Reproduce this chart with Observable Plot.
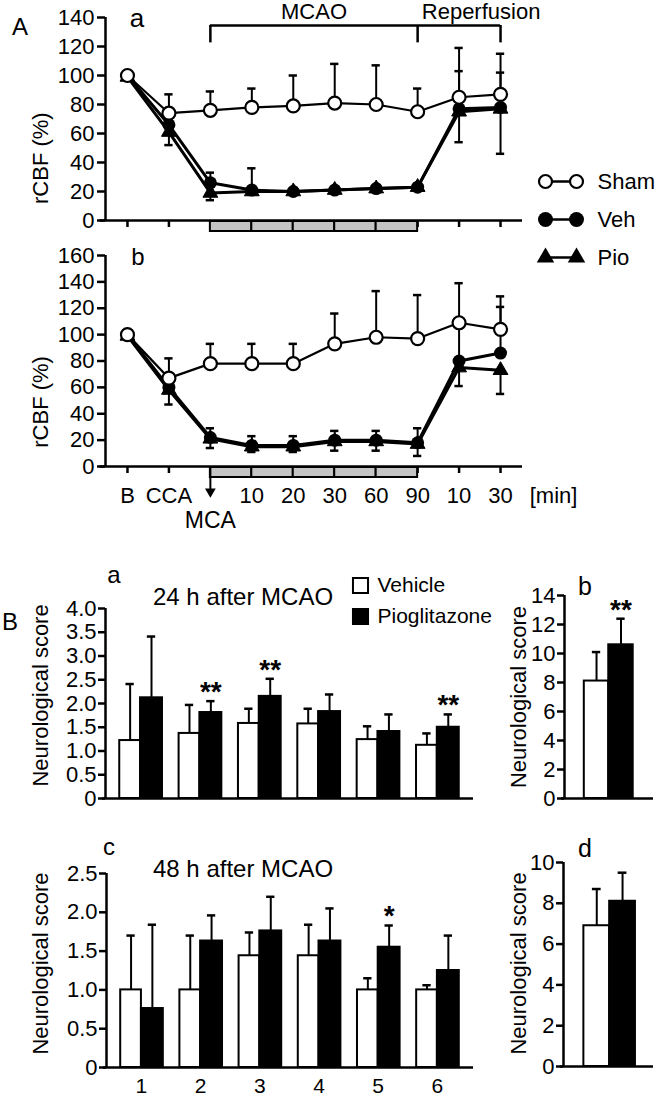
<!DOCTYPE html>
<html><head><meta charset="utf-8">
<script src="https://cdn.jsdelivr.net/npm/d3@7"></script>
<script src="https://cdn.jsdelivr.net/npm/@observablehq/plot@0.6"></script>
<style>
body{margin:0;background:#fff;}
#fig{position:relative;width:658px;height:1097px;overflow:hidden;background:#fff;font-family:"Liberation Sans",Arial,Helvetica,sans-serif;color:#000;}
.p{position:absolute;}
.lbl{position:absolute;white-space:nowrap;line-height:1;}
</style></head><body><div id="fig"></div>
<script>
// ---------- DATA ----------
const timeTickLabels = ["B","CCA","","10","20","30","60","90","10","30"];
const seriesNames = ["Sham","Veh","Pio"];

// Panel A-a (rCBF %)
const aSham     = [100,74,76,78,79,81,80,75,85,87];
const aShamUp   = [0,13,13,13,21,27,27,16,34,28];
const aVeh      = [100,66,26,21,20,21,22,23,77,78];
const aVehUp    = [0,0,7,15,0,0,0,0,26,24];
const aVehDown  = [0,14,0,0,0,0,0,0,0,0];
const aPio      = [99,61,19,20,20,21,22,23,75,77];
const aPioDown  = [0,0,5,0,0,0,0,0,21,31];

// Panel A-b (rCBF %)
const bSham     = [100,67,78,78,78,93,98,97,109,104];
const bShamUp   = [0,15,15,15,15,23,35,33,30,25];
const bVeh      = [100,60,22,16,16,20,20,18,80,86];
const bVehUp    = [0,0,7,7,7,7,7,11,28,35];
const bVehDown  = [0,13,0,0,0,0,0,0,0,0];
const bPio      = [99,58,21,15,15,19,19,17,75,73];
const bPioDown  = [0,0,7,4,4,7,7,9,14,18];

// Panel B (neurological scores)
const testGroups = [1,2,3,4,5,6];
const treatments = ["Vehicle","Pioglitazone"];
const veh24    = [1.22,1.37,1.58,1.57,1.24,1.12];
const veh24Err = [1.19,0.60,0.31,0.32,0.28,0.25];
const pio24    = [2.12,1.81,2.15,1.83,1.41,1.50];
const pio24Err = [1.29,0.24,0.37,0.36,0.36,0.27];
const sig24    = ["","**","**","","","**"];
const veh48    = [1.00,1.00,1.44,1.44,1.00,1.00];
const veh48Err = [0.70,0.70,0.30,0.40,0.15,0.06];
const pio48    = [0.76,1.63,1.76,1.63,1.55,1.25];
const pio48Err = [1.08,0.33,0.44,0.42,0.28,0.45];
const sig48    = ["","","","","*",""];
const total24    = [8.1,10.6];
const total24Err = [2.0,1.8];
const total24Sig = ["","**"];
const total48    = [6.9,8.1];
const total48Err = [1.8,1.4];
const total48Sig = ["",""];

// ---------- HELPERS ----------
const FONT = '"Liberation Sans", Arial, Helvetica, sans-serif';
const fig = document.getElementById("fig");
const st = size => ({fontFamily: FONT, fontSize: size + "px", color: "black", background: "transparent", overflow: "visible"});
function place(node, left, top, w) {
  const d = document.createElement("div");
  d.className = "p"; d.style.left = left + "px"; d.style.top = top + "px";
  if (w) d.style.width = w + "px";
  d.appendChild(node); fig.appendChild(d);
}
function label(text, x, y, size, opts = {}) {
  const s = document.createElement("div");
  s.className = "lbl"; s.textContent = text;
  s.style.fontSize = size + "px";
  s.style.left = x + "px"; s.style.top = y + "px";
  if (opts.center) s.style.transform = "translateX(-50%)";
  fig.appendChild(s);
}
function seriesRows(vals, ups, downs, s) {
  return vals.map((v, i) => ({i, s, v, up: ups ? ups[i] : 0, down: downs ? downs[i] : 0}));
}
const X_DOMAIN = [-0.53, 9.53];

function panelA(cfg) {
  const {sham, shamUp, veh, vehUp, vehDown, pio, pioDown, yMax, height, mt, mb, labelY, extra} = cfg;
  const k = (height - mt - mb) / yMax;
  const u = px => px / k;
  const rows = [
    ...seriesRows(sham, shamUp, null, "Sham"),
    ...seriesRows(veh, vehUp, vehDown, "Veh"),
    ...seriesRows(pio, null, pioDown, "Pio")
  ];
  const ups = rows.filter(d => d.up > 0), downs = rows.filter(d => d.down > 0);
  const cap = 0.1;
  const by = s => rows.filter(d => d.s === s);
  return Plot.plot({
    width: 658, height, marginLeft: 105, marginRight: 136, marginTop: mt, marginBottom: mb,
    x: {domain: X_DOMAIN, label: null}, y: {domain: [0, yMax], label: null},
    style: st(22),
    marks: [
      Plot.axisX({ticks: d3.range(10), tickSize: 7, tickFormat: () => "", strokeWidth: 2.5, label: null}),
      Plot.rect(d3.range(2, 7), {x1: d => d, x2: d => d + 1, y1: -u(11), y2: -u(1), fill: "#c4c4c4", stroke: "black", strokeWidth: 2}),
      Plot.ruleY([0], {x1: -0.66, x2: X_DOMAIN[1], strokeWidth: 2.5}),
      Plot.ruleX([X_DOMAIN[0]], {y1: 0, y2: yMax, strokeWidth: 2.5}),
      Plot.axisY({ticks: d3.range(0, yMax + 1, 20), tickSize: 8, tickPadding: 3, tickFormat: d => String(d), strokeWidth: 2.5, label: null}),
      Plot.text(["rCBF (%)"], {frameAnchor: "left", textAnchor: "middle", y: labelY, dx: -65, rotate: -90, text: d => d, fontSize: 22}),
      // error bars
      Plot.ruleX(ups, {x: "i", y1: "v", y2: d => d.v + d.up, strokeWidth: 2}),
      Plot.ruleY(ups, {y: d => d.v + d.up, x1: d => d.i - cap, x2: d => d.i + cap, strokeWidth: 2.5}),
      Plot.ruleX(downs, {x: "i", y1: "v", y2: d => d.v - d.down, strokeWidth: 2}),
      Plot.ruleY(downs, {y: d => d.v - d.down, x1: d => d.i - cap, x2: d => d.i + cap, strokeWidth: 2.5}),
      // lines
      Plot.line(by("Sham"), {x: "i", y: "v", strokeWidth: 2.2}),
      Plot.line(by("Pio"), {x: "i", y: "v", strokeWidth: 3}),
      Plot.line(by("Veh"), {x: "i", y: "v", strokeWidth: 3}),
      // points
      Plot.dot(by("Pio"), {x: "i", y: "v", symbol: "triangle", r: 5.5, fill: "black", stroke: "black", strokeWidth: 1}),
      Plot.dot(by("Veh"), {x: "i", y: "v", r: 6.5, fill: "black"}),
      Plot.dot(by("Sham"), {x: "i", y: "v", r: 6.5, fill: "white", stroke: "black", strokeWidth: 2.2}),
      ...extra(u)
    ]
  });
}

// ---------- PANEL A-a ----------
const plotAa = panelA({
  sham: aSham, shamUp: aShamUp, veh: aVeh, vehUp: aVehUp, vehDown: aVehDown, pio: aPio, pioDown: aPioDown,
  yMax: 140, height: 240, mt: 17, mb: 20, labelY: 43,
  extra: u => [
    Plot.ruleY([134.5], {x1: 2, x2: 9, strokeWidth: 2.5}),
    Plot.ruleX([2, 7, 9], {y1: 122.5, y2: 134.5, strokeWidth: 2.5}),
    Plot.text(["MCAO"], {x: 4.5, y: 143.5, text: d => d, fontSize: 22}),
    Plot.text(["Reperfusion"], {x: 7.1, y: 143.5, text: d => d, textAnchor: "start", fontSize: 22})
  ]
});
place(plotAa, 0, 0, 658);

// ---------- PANEL A-b ----------
const plotAb = panelA({
  sham: bSham, shamUp: bShamUp, veh: bVeh, vehUp: bVehUp, vehDown: bVehDown, pio: bPio, pioDown: bPioDown,
  yMax: 160, height: 300, mt: 15, mb: 74, labelY: 49,
  extra: u => [
    Plot.text([0, 1, 3, 4, 5, 6, 7, 8, 9], {x: d => d, y: -u(29), text: i => timeTickLabels[i], fontSize: 22}),
    Plot.text(["[min]"], {x: 10.28, y: -u(29), text: d => d, fontSize: 22}),
    Plot.ruleX([2], {y1: 0, y2: -u(24), strokeWidth: 2}),
    Plot.dot([2], {x: d => d, y: -u(25), symbol: "triangle", rotate: 180, r: 4, fill: "black"}),
    Plot.text(["MCA"], {x: 2, y: -u(54), text: d => d, fontSize: 23})
  ]
});
place(plotAb, 0, 240, 658);

// ---------- LEGEND A ----------
const legendA = Plot.plot({
  width: 130, height: 110, margin: 0,
  x: {domain: [0, 130], range: [0, 130], axis: null},
  y: {type: "point", domain: seriesNames, range: [16, 92], padding: 0, axis: null},
  style: st(22),
  marks: [
    Plot.ruleY(seriesNames, {y: d => d, x1: 17, x2: 48, strokeWidth: 2.5}),
    Plot.dot([17, 48].map(x => ({x, s: seriesNames[0]})), {x: "x", y: "s", r: 6.5, fill: "white", stroke: "black", strokeWidth: 2.2}),
    Plot.dot([17, 48].map(x => ({x, s: seriesNames[1]})), {x: "x", y: "s", r: 7.5, fill: "black"}),
    Plot.dot([17, 48].map(x => ({x, s: seriesNames[2]})), {x: "x", y: "s", symbol: "triangle", r: 6.5, fill: "black"}),
    Plot.text(seriesNames, {x: 69, y: d => d, text: d => d, textAnchor: "start"})
  ]
});
place(legendA, 528, 165, 130);

// ---------- PANEL B ----------
function groupRows(veh, vehErr, pio, pioErr, sig) {
  return testGroups.flatMap((g, j) => [
    {g, t: treatments[0], x1: g - 0.35, x2: g, c: g - 0.175, v: veh[j], e: vehErr[j], sig: ""},
    {g, t: treatments[1], x1: g, x2: g + 0.37, c: g + 0.185, v: pio[j], e: pioErr[j], sig: sig[j]}
  ]);
}
function totalRows(vals, errs, sig) {
  return treatments.map((t, j) => ({t, x1: j - 0.5, x2: j + 0.5, c: j, v: vals[j], e: errs[j], sig: sig[j]}));
}
function barPanel(cfg) {
  const {rows, yMax, ticks, fmt, width, height, ml, mr, mt, mb, xDomain, cap, labelY, labelDx, xLabels, starDy} = cfg;
  const k = (height - mt - mb) / yMax;
  const u = px => px / k;
  const ux = (xDomain[1] - xDomain[0]) / (width - ml - mr);
  return Plot.plot({
    width, height, marginLeft: ml, marginRight: mr, marginTop: mt, marginBottom: mb,
    x: {domain: xDomain, axis: null}, y: {domain: [0, yMax], label: null},
    style: st(22),
    marks: [
      Plot.rect(rows, {x1: "x1", x2: "x2", y1: 0, y2: "v", fill: d => d.t === "Vehicle" ? "white" : "black", stroke: "black", strokeWidth: 2}),
      Plot.ruleX(rows, {x: "c", y1: "v", y2: d => d.v + d.e, strokeWidth: 2}),
      Plot.ruleY(rows, {y: d => d.v + d.e, x1: d => d.c - cap, x2: d => d.c + cap, strokeWidth: 2.5}),
      Plot.ruleY([0], {x1: xDomain[0] - 3 * ux, x2: xDomain[1], strokeWidth: 2.5}),
      Plot.ruleX([xDomain[0]], {y1: 0, y2: yMax, strokeWidth: 2.5}),
      Plot.axisY({ticks, tickSize: 7, tickPadding: 2, tickFormat: fmt, strokeWidth: 2.5, label: null}),
      Plot.text(rows.filter(d => d.sig), {x: "c", y: d => d.v + d.e, dy: starDy, text: "sig", fontSize: 28, fontWeight: "bold"}),
      Plot.text(["Neurological score"], {frameAnchor: "left", textAnchor: "middle", y: labelY, dx: labelDx, rotate: -90, text: d => d, fontSize: 22}),
      ...(xLabels ? [Plot.text(testGroups, {x: d => d, y: -u(19), text: d => String(d), fontSize: 21})] : [])
    ]
  });
}
const fmtHalf = d => d === 0 ? "0" : d.toFixed(1);

const plotBa = barPanel({
  rows: groupRows(veh24, veh24Err, pio24, pio24Err, sig24), yMax: 4, ticks: d3.range(0, 4.01, 0.5), fmt: fmtHalf,
  width: 500, height: 260, ml: 105, mr: 27, mt: 48, mb: 22, xDomain: [0.41, 6.61], cap: 0.07,
  labelY: 2.17, labelDx: -65, xLabels: false, starDy: -9
});
place(plotBa, 0, 560, 500);

const plotBb = barPanel({
  rows: totalRows(total24, total24Err, total24Sig), yMax: 14, ticks: d3.range(0, 15, 2), fmt: d => String(d),
  width: 178, height: 260, ml: 84, mr: 5, mt: 35, mb: 22, xDomain: [-1.31, 2.33], cap: 0.17,
  labelY: 7.0, labelDx: -46, xLabels: false, starDy: -9
});
place(plotBb, 480, 560, 178);

const plotBc = barPanel({
  rows: groupRows(veh48, veh48Err, pio48, pio48Err, sig48), yMax: 2.5, ticks: d3.range(0, 2.51, 0.5), fmt: fmtHalf,
  width: 500, height: 267, ml: 106, mr: 27, mt: 43, mb: 30, xDomain: [0.41, 6.61], cap: 0.07,
  labelY: 1.34, labelDx: -66, xLabels: true, starDy: -9
});
place(plotBc, 0, 830, 500);

const plotBd = barPanel({
  rows: totalRows(total48, total48Err, total48Sig), yMax: 10, ticks: d3.range(0, 11, 2), fmt: d => String(d),
  width: 178, height: 267, ml: 83, mr: 5, mt: 32, mb: 31, xDomain: [-1.29, 2.2], cap: 0.17,
  labelY: 5.05, labelDx: -45, xLabels: false, starDy: -9
});
place(plotBd, 480, 830, 178);

// ---------- LEGEND B ----------
const legendB = Plot.plot({
  width: 170, height: 60, margin: 0,
  x: {domain: [0, 170], range: [0, 170], axis: null},
  y: {type: "point", domain: treatments, range: [15, 46], padding: 0, axis: null},
  style: st(21),
  marks: [
    Plot.dot(treatments, {x: 15, y: d => d, symbol: "square", r: 8.5, fill: d => d === "Vehicle" ? "white" : "black", stroke: "black", strokeWidth: 2}),
    Plot.text(treatments, {x: 32, y: d => d, text: d => d, textAnchor: "start"})
  ]
});
place(legendB, 345, 570, 170);

// ---------- PANEL LETTERS & TITLES ----------
label("A", 12, 15, 24);
label("a", 137, 5, 26, {center: true});
label("b", 138, 245, 24, {center: true});
label("B", 2, 610, 24);
label("a", 114, 563, 24, {center: true});
label("b", 585, 574, 25, {center: true});
label("c", 109, 835, 24, {center: true});
label("d", 585, 836, 25, {center: true});
label("24 h after MCAO", 153, 585, 24);
label("48 h after MCAO", 153, 857, 24);
</script></body></html>
